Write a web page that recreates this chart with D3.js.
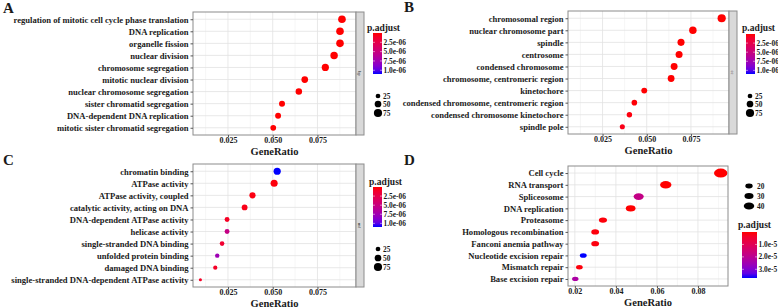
<!DOCTYPE html>
<html>
<head>
<meta charset="utf-8">
<script src="https://cdn.jsdelivr.net/npm/d3@7"></script>
<style>
body { margin: 0; background: #fff; }
svg { display: block; }
text { font-family: "Liberation Serif", "DejaVu Serif", serif !important; font-weight: bold; fill: #1a1a1a; }
</style>
</head>
<body>
<svg id="chart" width="778" height="307"></svg>
<script>
// ---- data ----
var termsA = ["regulation of mitotic cell cycle phase translation", "DNA replication", "organelle fission",
    "nuclear division", "chromosome segregation", "mitotic nuclear division", "nuclear chromosome segregation",
    "sister chromatid segregation", "DNA-dependent DNA replication", "mitotic sister chromatid segregation"]
var ratioA = [0.0887, 0.0876, 0.0876, 0.0843, 0.0794, 0.0679, 0.0646, 0.0552, 0.0530, 0.0503]
var countA = [65, 64, 64, 62, 58, 50, 47, 40, 39, 37]
var padjA = [1.2e-12, 3.5e-12, 4.1e-11, 2.2e-10, 5.6e-10, 1.3e-9, 2.8e-9, 6.4e-9, 1.1e-8, 2.3e-8]

var termsB = ["chromosomal region", "nuclear chromosome part", "spindle", "centrosome", "condensed chromosome",
    "chromosome, centromeric region", "kinetochore", "condensed chromosome, centromeric region",
    "condensed chromosome kinetochore", "spindle pole"]
var ratioB = [0.0924, 0.0761, 0.0694, 0.0683, 0.0655, 0.0638, 0.0486, 0.0430, 0.0402, 0.0362]
var countB = [75, 62, 56, 55, 53, 52, 39, 35, 33, 29]
var padjB = [2.0e-13, 1.5e-11, 3.3e-10, 4.0e-10, 7.7e-10, 1.9e-9, 4.2e-8, 1.1e-7, 2.5e-7, 4.8e-7]

var termsC = ["chromatin binding", "ATPase activity", "ATPase activity, coupled", "catalytic activity, acting on DNA",
    "DNA-dependent ATPase activity", "helicase activity", "single-stranded DNA binding", "unfolded protein binding",
    "damaged DNA binding", "single-stranded DNA-dependent ATPase activity"]
var ratioC = [0.0525, 0.0508, 0.0387, 0.0343, 0.0245, 0.0245, 0.0217, 0.0190, 0.0179, 0.0096]
var countC = [58, 56, 43, 38, 27, 27, 24, 21, 20, 11]
var padjC = [1.1e-5, 2.1e-7, 3.4e-7, 5.2e-7, 8.8e-7, 5.3e-6, 1.4e-6, 7.6e-6, 1.0e-6, 9.5e-7]

var termsD = ["Cell cycle", "RNA transport", "Spliceosome", "DNA replication", "Proteasome",
    "Homologous recombination", "Fanconi anemia pathway", "Nucleotide excision repair", "Mismatch repair",
    "Base excision repair"]
var ratioD = [0.0911, 0.0643, 0.0511, 0.0472, 0.0337, 0.0299, 0.0299, 0.0241, 0.0222, 0.0202]
var countD = [66, 47, 37, 34, 24, 22, 22, 17, 16, 15]
var padjD = [2.1e-12, 4.5e-9, 1.8e-5, 3.3e-8, 6.0e-7, 8.0e-7, 9.0e-7, 3.7e-5, 7.0e-7, 2.3e-5]

var ticksABC = [0.025, 0.05, 0.075]
var minorABC = [0.0125, 0.0375, 0.0625, 0.0875]
var ticksD = [0.02, 0.04, 0.06, 0.08]
var minorD = [0.03, 0.05, 0.07, 0.09]
var padjTicksABC = [2.5e-6, 5e-6, 7.5e-6, 1e-5]
var padjLabelsABC = ["2.5e-06", "5.0e-06", "7.5e-06", "1.0e-06"]
var padjTicksD = [1e-5, 2e-5, 3e-5]
var padjLabelsD = ["1.0e-5", "2.0e-5", "3.0e-5"]
var sizeBreaksABC = [25, 50, 75]
var sizeBreaksD = [20, 30, 40]

var FONT = '"Liberation Serif", "DejaVu Serif", serif'
var svg = d3.select("#chart")

function expand(vals) {
    var e = d3.extent(vals), pad = (e[1] - e[0]) * 0.05
    return [e[0] - pad, e[1] + pad]
}

var domainABC = expand(ratioA.concat(ratioB, ratioC))
var domainD = expand(ratioD)
var padjDomainABC = [0, d3.max(padjA.concat(padjB, padjC))]
var padjDomainD = [0, d3.max(padjD)]

function colorScale(dom) {
    return d3.scaleLinear().domain(dom).range(["#ff0000", "#0000ff"]).interpolate(d3.interpolateLab)
}

var gradId = 0

function drawPanel(p) {
    var g = svg.append("g")

    var x = d3.scaleLinear().domain(p.xDomain).range([p.x0, p.x1])
    var y = d3.scalePoint().domain(p.terms).range([p.y0, p.y1]).padding(0.6)
    var color = colorScale(p.padjDomain)
    var size = d3.scaleSqrt().domain([0, p.sizeMax]).range([0, p.rMax])

    // panel background + grid
    g.append("rect").attr("x", p.x0).attr("y", p.y0).attr("width", p.x1 - p.x0).attr("height", p.y1 - p.y0)
        .attr("fill", "#fff")
    g.selectAll("line.minor").data(p.minor).enter().append("line")
        .attr("x1", function(d) { return x(d) }).attr("x2", function(d) { return x(d) })
        .attr("y1", p.y0).attr("y2", p.y1)
        .attr("stroke", "#f0f0f0").attr("stroke-width", 0.6)
    g.selectAll("line.major").data(p.ticks).enter().append("line")
        .attr("x1", function(d) { return x(d) }).attr("x2", function(d) { return x(d) })
        .attr("y1", p.y0).attr("y2", p.y1)
        .attr("stroke", "#e2e2e2").attr("stroke-width", 0.8)
    g.selectAll("line.hgrid").data(p.terms).enter().append("line")
        .attr("x1", p.x0).attr("x2", p.x1)
        .attr("y1", function(d) { return y(d) }).attr("y2", function(d) { return y(d) })
        .attr("stroke", "#e2e2e2").attr("stroke-width", 0.8)

    // dots
    var rows = p.terms.map(function(t, i) { return {term: t, ratio: p.ratio[i], count: p.count[i], padj: p.padj[i]} })
    g.selectAll("ellipse.dot").data(rows).enter().append("ellipse")
        .attr("cx", function(d) { return x(d.ratio) })
        .attr("cy", function(d) { return y(d.term) })
        .attr("rx", function(d) { return size(d.count) * p.aspect })
        .attr("ry", function(d) { return size(d.count) })
        .attr("fill", function(d) { return color(d.padj) })

    g.append("rect").attr("x", p.x0).attr("y", p.y0).attr("width", p.x1 - p.x0).attr("height", p.y1 - p.y0)
        .attr("fill", "none").attr("stroke", "#8c8c8c").attr("stroke-width", 1)

    // axes
    var ya = g.append("g").attr("transform", "translate(" + p.x0 + ",0)")
        .call(d3.axisLeft(y).tickSize(2.5).tickPadding(2))
    ya.attr("font-family", FONT).attr("font-size", null)
    ya.select(".domain").remove()
    ya.selectAll("line").attr("stroke", "#555")
    ya.selectAll("text").style("font-size", "8.6px").attr("fill", "#1a1a1a")

    var xa = g.append("g").attr("transform", "translate(0," + p.y1 + ")")
        .call(d3.axisBottom(x).tickValues(p.ticks).tickFormat(d3.format(p.fmt)).tickSize(2).tickPadding(0.5))
    xa.attr("font-family", FONT).attr("font-size", null)
    xa.select(".domain").remove()
    xa.selectAll("line").attr("stroke", "#555")
    xa.selectAll("text").style("font-size", "8px").attr("fill", "#333")

    g.append("text").attr("x", (p.x0 + p.x1) / 2).attr("y", p.y1 + 19.5)
        .attr("text-anchor", "middle").style("font-size", "10.5px").text("GeneRatio")

    // facet strip
    if (p.strip) {
        g.append("rect").attr("x", p.x1).attr("y", p.y0).attr("width", 8).attr("height", p.y1 - p.y0)
            .attr("fill", "#d9d9d9").attr("stroke", "#8c8c8c").attr("stroke-width", 1)
        g.append("text").attr("transform", "translate(" + (p.x1 + 4) + "," + ((p.y0 + p.y1) / 2) + ") rotate(90)")
            .attr("text-anchor", "middle").attr("dy", "0.35em").style("font-size", "4.5px").attr("fill", "#444")
            .style("font-weight", "normal").text(p.strip)
    }

    // panel letter
    g.append("text").attr("x", p.letterX).attr("y", p.letterY).style("font-size", "15px").text(p.letter)

    // colour bar
    var L = p.legend
    var id = "grad" + (gradId++)
    var grad = svg.append("defs").append("linearGradient").attr("id", id)
        .attr("x1", 0).attr("x2", 0).attr("y1", 0).attr("y2", 1)
    d3.range(0, 1.0001, 0.1).forEach(function(t) {
        grad.append("stop").attr("offset", t)
            .attr("stop-color", color(p.padjDomain[0] + t * (p.padjDomain[1] - p.padjDomain[0])))
    })
    var cy = d3.scaleLinear().domain(p.padjDomain).range([L.barY0, L.barY1])
    g.append("text").attr("x", L.titleX).attr("y", L.titleY).style("font-size", "9.5px").text("p.adjust")
    g.append("rect").attr("x", L.barX).attr("y", L.barY0).attr("width", L.barW).attr("height", L.barY1 - L.barY0)
        .attr("fill", "url(#" + id + ")")
    g.selectAll("text.plab").data(p.padjTicks).enter().append("text")
        .attr("x", L.barX + L.barW + 1.5).attr("y", function(d) { return cy(d) }).attr("dy", "0.35em")
        .style("font-size", "7.4px").text(function(d, i) { return p.padjLabels[i] })
    g.selectAll("line.ptick").data(p.padjTicks).enter().append("line")
        .attr("x1", L.barX).attr("x2", L.barX + 2).attr("y1", function(d) { return cy(d) }).attr("y2", function(d) { return cy(d) })
        .attr("stroke", "#fff").attr("stroke-width", 0.5)
    g.selectAll("line.ptick2").data(p.padjTicks).enter().append("line")
        .attr("x1", L.barX + L.barW - 2).attr("x2", L.barX + L.barW).attr("y1", function(d) { return cy(d) }).attr("y2", function(d) { return cy(d) })
        .attr("stroke", "#fff").attr("stroke-width", 0.5)

    // size legend
    g.selectAll("ellipse.skey").data(p.sizeBreaks).enter().append("ellipse")
        .attr("cx", L.sizeX).attr("cy", function(d, i) { return L.sizeY[i] })
        .attr("rx", function(d) { return size(d) * p.aspect }).attr("ry", function(d) { return size(d) })
        .attr("fill", "#000")
    g.selectAll("text.slab").data(p.sizeBreaks).enter().append("text")
        .attr("x", L.sizeLabelX).attr("y", function(d, i) { return L.sizeY[i] }).attr("dy", "0.35em")
        .style("font-size", "7.4px").text(function(d) { return d })
}

drawPanel({
    terms: termsA, ratio: ratioA, count: countA, padj: padjA,
    x0: 193, x1: 356, y0: 12, y1: 135, xDomain: domainABC, ticks: ticksABC, minor: minorABC, fmt: ".3f",
    padjDomain: padjDomainABC, padjTicks: padjTicksABC, padjLabels: padjLabelsABC,
    sizeMax: 75, rMax: 4.1, aspect: 1, sizeBreaks: sizeBreaksABC, strip: "bp",
    letter: "A", letterX: 3, letterY: 13,
    legend: {titleX: 367, titleY: 31, barX: 373, barW: 9, barY0: 33, barY1: 74, sizeX: 378, sizeY: [96, 104, 113], sizeLabelX: 383}
})
drawPanel({
    terms: termsB, ratio: ratioB, count: countB, padj: padjB,
    x0: 568, x1: 729, y0: 11, y1: 134, xDomain: domainABC, ticks: ticksABC, minor: minorABC, fmt: ".3f",
    padjDomain: padjDomainABC, padjTicks: padjTicksABC, padjLabels: padjLabelsABC,
    sizeMax: 75, rMax: 4.1, aspect: 1, sizeBreaks: sizeBreaksABC, strip: "cc",
    letter: "B", letterX: 404, letterY: 12,
    legend: {titleX: 742, titleY: 31, barX: 746, barW: 9, barY0: 34, barY1: 74, sizeX: 750, sizeY: [96, 104, 113], sizeLabelX: 755}
})
drawPanel({
    terms: termsC, ratio: ratioC, count: countC, padj: padjC,
    x0: 193, x1: 356, y0: 164, y1: 287, xDomain: domainABC, ticks: ticksABC, minor: minorABC, fmt: ".3f",
    padjDomain: padjDomainABC, padjTicks: padjTicksABC, padjLabels: padjLabelsABC,
    sizeMax: 75, rMax: 4.1, aspect: 1, sizeBreaks: sizeBreaksABC, strip: "mf",
    letter: "C", letterX: 3, letterY: 165,
    legend: {titleX: 369, titleY: 185, barX: 373, barW: 9, barY0: 187, barY1: 227, sizeX: 378, sizeY: [249, 258, 267], sizeLabelX: 383}
})
drawPanel({
    terms: termsD, ratio: ratioD, count: countD, padj: padjD,
    x0: 568, x1: 728, y0: 166, y1: 286, xDomain: domainD, ticks: ticksD, minor: minorD, fmt: ".2f",
    padjDomain: padjDomainD, padjTicks: padjTicksD, padjLabels: padjLabelsD,
    sizeMax: 40, rMax: 3.5, aspect: 1.5, sizeBreaks: sizeBreaksD, strip: null,
    letter: "D", letterX: 404, letterY: 165,
    legend: {titleX: 738, titleY: 228, barX: 742, barW: 15, barY0: 232, barY1: 278, sizeX: 749, sizeY: [186, 196, 206], sizeLabelX: 757}
})
</script>
</body>
</html>
